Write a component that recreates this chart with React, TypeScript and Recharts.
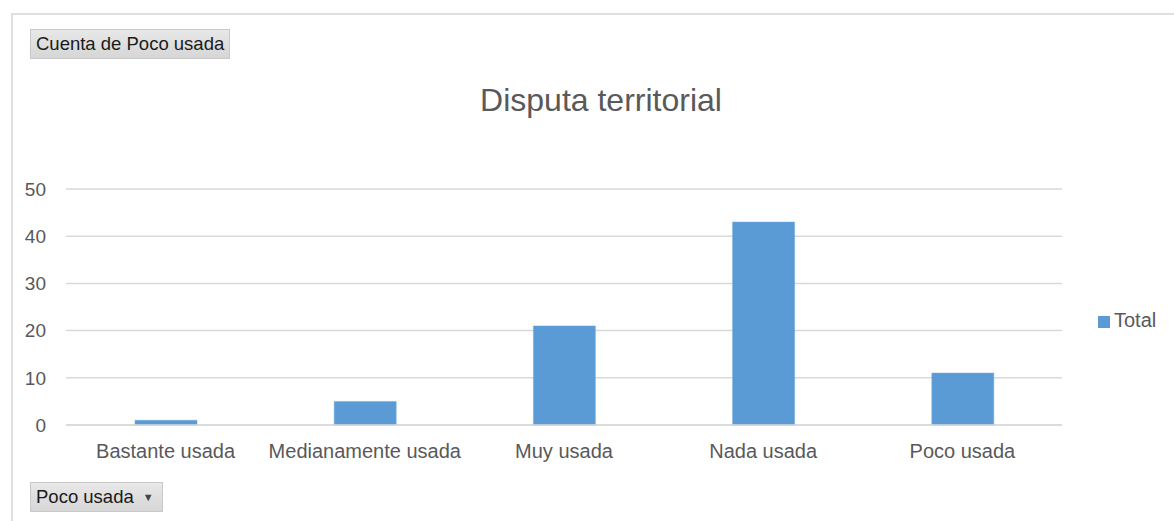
import React from "react";
import { BarChart, Bar, XAxis, YAxis, CartesianGrid, Legend } from "recharts";

const categories = ["Bastante usada", "Medianamente usada", "Muy usada", "Nada usada", "Poco usada"];
const totals = [1, 5, 21, 43, 11];
const yTicks = [0, 10, 20, 30, 40, 50];

const data = categories.map((c, i) => ({ name: c, Total: totals[i] }));

const FONT = "'Liberation Sans', Arial, sans-serif";
const TXT = "#595959";

const btn: React.CSSProperties = {
  position: "absolute",
  background: "linear-gradient(#e8e8e8, #d6d6d6)",
  border: "1px solid #c9c9c9",
  color: "#1a1a1a",
  fontFamily: FONT,
  fontSize: 18.5,
  lineHeight: "28px",
  padding: "0 5px",
  boxSizing: "border-box",
  whiteSpace: "nowrap",
};

export default function App() {
  return (
    <div style={{ position: "fixed", left: 0, top: 0, width: 1174, height: 521, background: "#fff", overflow: "hidden", fontFamily: FONT }}>
      <div style={{ position: "absolute", left: 11, top: 13, width: 1163, height: 2, background: "#e0e0e0" }} />
      <div style={{ position: "absolute", left: 11, top: 13, width: 2, height: 508, background: "#e0e0e0" }} />
      <div style={{ position: "absolute", left: 0, top: 0 }}>
        <BarChart width={1174} height={521} data={data} margin={{ top: 189, right: 32, bottom: 0, left: 10 }} barSize={62}>
          <text x={601} y={111} textAnchor="middle" fill={TXT} fontFamily={FONT} fontSize={32}>Disputa territorial</text>
          <CartesianGrid horizontal vertical={false} stroke="#d9d9d9" strokeWidth={1.5} />
          <XAxis dataKey="name" axisLine={{ stroke: "#d9d9d9", strokeWidth: 1.5 }} tickLine={false} tickSize={0} tickMargin={19} height={96}
            tick={{ fill: TXT, fontSize: 20, fontFamily: FONT }} interval={0} />
          <YAxis domain={[0, 50]} ticks={yTicks} axisLine={false} tickLine={false} tickSize={0} tickMargin={20} width={56}
            tick={{ fill: TXT, fontSize: 19, fontFamily: FONT }} />
          <Legend layout="vertical" verticalAlign="top" align="right" iconType="square" iconSize={12}
            wrapperStyle={{ position: "absolute", left: 1098, top: 309, width: 80, fontFamily: FONT, fontSize: 20 }}
            formatter={(v: string) => <span style={{ color: TXT }}>{v}</span>} />
          <Bar dataKey="Total" fill="#5b9bd5" stroke="#6fa8dc" strokeWidth={0.5} isAnimationActive={false} />
        </BarChart>
      </div>
      <div style={{ ...btn, left: 30, top: 29, width: 200, height: 30 }}>Cuenta de Poco usada</div>
      <div style={{ ...btn, left: 30, top: 482, width: 133, height: 30 }}>Poco usada <span style={{ fontSize: 11, color: "#444", marginLeft: 4, verticalAlign: "2px" }}>▼</span></div>
    </div>
  );
}
